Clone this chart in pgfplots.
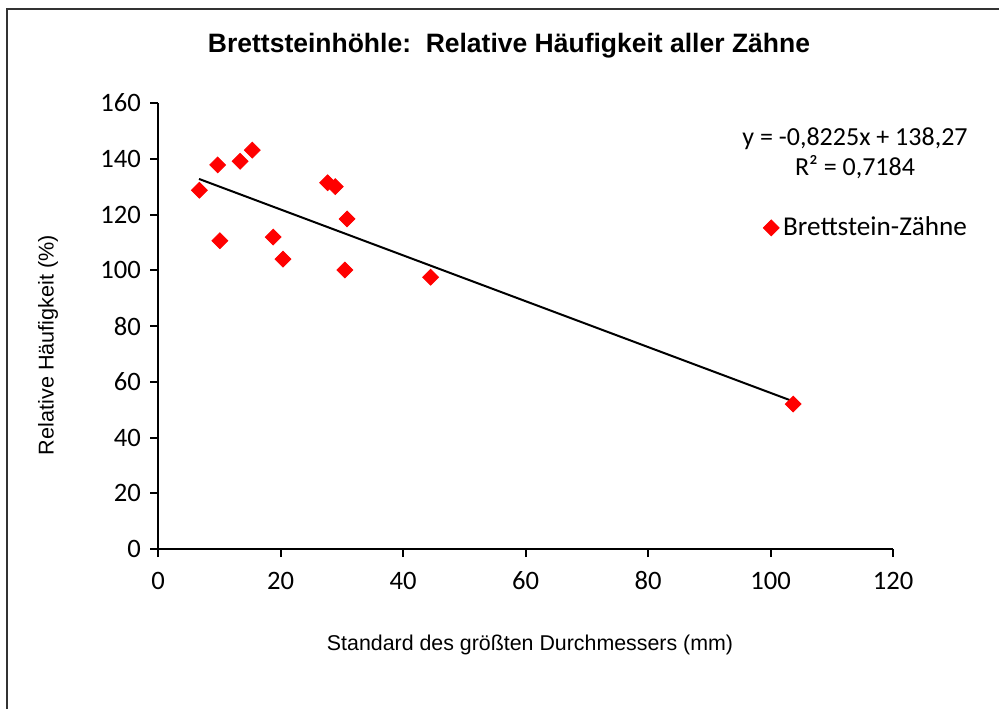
\documentclass[border=0pt]{standalone}
\usepackage{fontspec}
\setmainfont{Carlito}
\newfontfamily\arial{Liberation Sans}
\usepackage{graphicx}
\usepackage{pgfplots}
\pgfplotsset{compat=1.18}
\begin{document}
\begin{tikzpicture}
\path[use as bounding box] (0pt,0pt) rectangle (499.5pt,-354.5pt);
\draw[line width=0.8pt, black!80] (3.5pt,-354.5pt) -- (3.5pt,-4.5pt) -- (499.5pt,-4.5pt);
\begin{axis}[
  at={(79pt,-274.5pt)}, anchor=south west,
  scale only axis, width=367.5pt, height=223pt,
  xmin=0, xmax=120, ymin=0, ymax=160,
  xtick={0,20,...,120}, ytick={0,20,...,160},
  axis lines*=left,
  axis line style={line width=1pt, black},
  tick style={line width=1pt, black},
  tick align=outside, major tick length=4pt,
  /pgf/number format/assume math mode=true,
  tick label style={font=\fontsize{13.3}{15}\selectfont},
  xticklabel style={text height=8.6pt, text depth=0pt, yshift=-4pt},
  yticklabel style={xshift=-1pt},
  clip=false,
  legend style={at={(0.823,0.72)}, anchor=west, draw=none, fill=none,
    font=\fontsize{13.6}{15}\selectfont, inner sep=0pt},
  legend cell align=left,
]
\addplot[black, line width=1pt, forget plot] coordinates {(6.7,132.76) (103.8,52.89)};
\addplot[only marks, mark=square*, mark size=2.8pt, mark options={rotate=45, fill=red, draw=red}] coordinates {
(6.75,128.7) (9.74,137.8) (10.1,110.6) (13.4,139.1) (15.4,143.1)
(18.8,111.9) (20.4,104.0) (27.7,131.4) (28.95,130.0) (30.86,118.4)
(30.5,100.1) (44.5,97.5) (103.7,52.0)};
\addlegendentry{Brettstein-Zähne}
\end{axis}
\node at (254.5pt,-23pt) {\resizebox{301pt}{\height}{\arial\bfseries\fontsize{13.3}{15}\selectfont Brettsteinhöhle:\ \ Relative Häufigkeit aller Zähne}};
\node at (265pt,-322.5pt) {\resizebox{203pt}{\height}{\arial\fontsize{10.7}{13}\selectfont Standard des größten Durchmessers (mm)}};
\node[rotate=90] at (24pt,-172.5pt) {\resizebox{110pt}{\height}{\arial\fontsize{10.7}{13}\selectfont Relative Häufigkeit (\%)}};
\node[font=\fontsize{13}{15}\selectfont, align=center] at (427.5pt,-76.5pt) {y = -0,8225x + 138,27\\[0pt] R² = 0,7184};
\end{tikzpicture}
\end{document}
